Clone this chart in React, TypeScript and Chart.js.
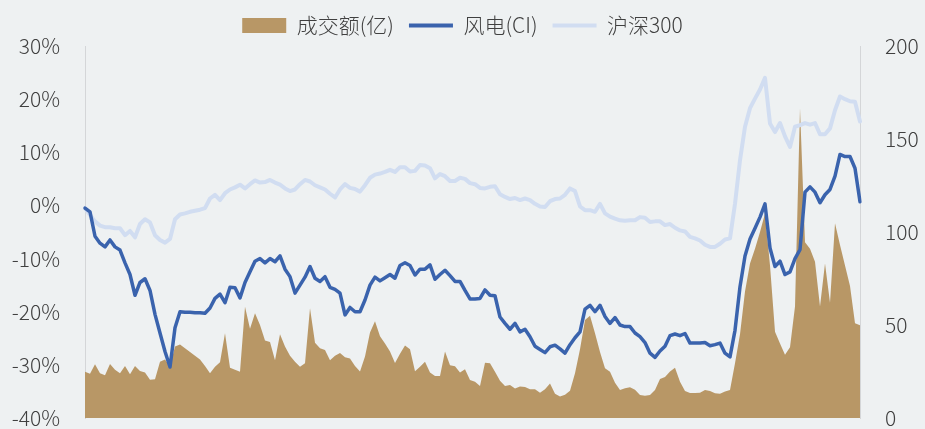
import React, { useEffect, useRef } from 'react';
import { Chart, registerables } from 'chart.js';

Chart.register(...registerables);

// 风电(CI) cumulative return, %
const windCI = [
  -0.5, -1.2, -5.8, -7.1, -7.8, -6.5, -7.8, -8.4, -10.8, -13.0,
  -16.9, -14.5, -13.8, -16.0, -20.5, -24.0, -27.5, -30.4, -23.0, -20.0,
  -20.1, -20.1, -20.2, -20.2, -20.3, -19.3, -17.5, -16.7, -18.3, -15.4,
  -15.5, -17.4, -14.5, -12.5, -10.5, -10.0, -10.8, -10.0, -10.6, -9.5,
  -12.0, -13.4, -16.5, -15.0, -13.5, -11.5, -13.7, -14.3, -13.4, -15.4,
  -15.8, -16.5, -20.6, -19.2, -20.0, -20.0, -17.8, -15.0, -13.5, -14.2,
  -13.6, -13.0, -13.7, -11.3, -10.8, -11.3, -13.1, -12.0, -12.0, -11.2,
  -13.9, -13.0, -12.2, -13.2, -14.3, -14.3, -16.0, -17.6, -17.6, -17.5,
  -15.9, -16.9, -17.0, -21.0, -22.2, -23.3, -22.2, -23.8, -23.3, -24.7,
  -26.5, -27.1, -27.7, -26.6, -26.3, -27.0, -27.8, -26.2, -24.9, -23.8,
  -19.5, -18.8, -20.0, -18.8, -20.9, -22.2, -21.1, -22.5, -22.8, -22.8,
  -24.0, -24.7, -25.8, -27.8, -28.6, -27.4, -26.5, -24.5, -24.2, -24.5,
  -24.1, -25.9, -25.9, -25.9, -25.8, -26.4, -26.2, -25.9, -27.8, -28.5,
  -23.5, -15.3, -9.5, -6.3, -4.3, -2.2, 0.3, -8.0, -11.5, -10.5,
  -13.0, -12.5, -10.0, -8.3, 2.5, 3.5, 2.5, 0.5, 2.0, 3.0,
  5.5, 9.6, 9.2, 9.2, 7.0, 0.7,
];

// 沪深300 cumulative return, %
const hs300 = [
  -0.5, -1.8, -3.0, -3.8, -4.1, -4.1, -4.3, -4.3, -5.6, -4.8,
  -6.0, -3.5, -2.6, -3.2, -5.6, -6.5, -7.0, -6.3, -2.6, -1.7,
  -1.5, -1.2, -1.0, -0.8, -0.5, 1.3, 2.0, 1.0, 2.3, 3.0,
  3.4, 3.9, 3.2, 4.0, 4.7, 4.3, 4.4, 4.8, 4.3, 3.9,
  3.2, 2.7, 3.0, 4.0, 4.8, 4.5, 3.8, 3.4, 3.0, 2.2,
  1.5, 3.0, 4.0, 3.3, 3.1, 2.6, 3.8, 5.2, 5.8, 6.0,
  6.3, 6.7, 6.3, 7.2, 7.2, 6.4, 6.5, 7.6, 7.5, 7.0,
  5.1, 5.9, 5.5, 4.6, 4.6, 5.2, 5.0, 4.2, 4.0, 3.3,
  3.2, 3.5, 3.6, 2.1, 1.6, 1.2, 1.4, 1.0, 1.3, 1.0,
  0.3, -0.2, -0.3, 0.8, 1.2, 1.3, 2.0, 3.2, 2.7, -0.2,
  -0.9, -0.9, -1.2, 0.3, -1.5, -2.1, -2.5, -2.8, -2.9, -2.8,
  -2.8, -2.2, -2.3, -3.1, -3.0, -3.0, -3.7, -3.5, -4.2, -4.7,
  -4.9, -5.9, -6.2, -6.6, -7.4, -7.8, -7.8, -7.2, -6.4, -6.2,
  0.3, 8.5, 14.8, 18.3, 20.1, 21.8, 24.0, 15.4, 13.8, 15.5,
  13.0, 11.0, 14.8, 15.1, 15.5, 15.2, 15.5, 13.4, 13.4, 14.5,
  17.9, 20.5, 20.0, 19.6, 19.5, 15.8,
];

// 成交额(亿)
const turnover = [
  24.9, 23.8, 28.9, 24.0, 23.0, 29.0, 26.0, 24.0, 28.0, 23.5,
  28.0, 25.3, 24.5, 20.5, 20.8, 30.3, 31.5, 27.8, 38.5, 39.5,
  37.5, 35.5, 33.5, 31.5, 28.0, 24.0, 27.6, 30.0, 45.5, 27.0,
  26.0, 24.9, 59.8, 48.0, 56.3, 50.0, 41.6, 40.8, 31.0, 45.0,
  38.5, 33.5, 30.3, 27.5, 29.5, 59.0, 40.5, 37.5, 36.5, 31.0,
  33.5, 35.0, 32.6, 32.0, 28.0, 25.0, 33.0, 46.0, 52.0, 44.0,
  40.0, 35.7, 29.6, 34.5, 39.0, 37.0, 25.1, 27.5, 30.3, 24.5,
  22.6, 22.6, 35.7, 28.3, 27.8, 24.5, 26.2, 20.4, 19.5, 17.2,
  29.7, 29.4, 24.9, 20.0, 17.2, 17.8, 15.8, 16.9, 16.6, 15.5,
  15.5, 13.6, 15.5, 18.6, 13.0, 11.5, 12.5, 14.7, 24.0, 37.0,
  52.7, 55.0, 45.5, 35.5, 26.8, 24.9, 19.0, 15.0, 16.0, 16.5,
  15.2, 12.4, 12.0, 12.4, 15.0, 21.0, 22.0, 25.0, 27.0, 19.5,
  14.5, 13.5, 13.5, 13.6, 15.0, 14.5, 13.3, 13.0, 14.2, 15.0,
  29.4, 45.0, 68.0, 83.0, 91.0, 100.0, 110.0, 82.0, 46.4, 40.0,
  34.0, 38.0, 60.0, 166.5, 94.5, 91.0, 84.0, 60.0, 83.0, 62.0,
  104.7, 93.0, 82.0, 71.0, 50.9, 49.9,
];

const days = windCI.map((_, i) => `D${i + 1}`);

const seriesLabels = ['成交额(亿)', '风电(CI)', '沪深300'];

const BG = '#eef1f2';
const BROWN = '#b89766';
const BLUE = '#3a63ad';
const LIGHT = '#d1ddf1';
const TEXT = '#404040';
const AXIS = '#d4d6d8';
const FONT = '"Noto Sans CJK SC", "Noto Sans", sans-serif';

export default function App() {
  const ref = useRef<HTMLCanvasElement>(null);

  useEffect(() => {
    if (!ref.current) return;
    const font = { family: FONT, size: 21, weight: '300' };
    const fixAxis = (w: number) => (s: any) => {
      s.width = w;
      s.paddingTop = 0;
      s.paddingBottom = 0;
    };
    const chart = new Chart(ref.current, {
      type: 'line',
      data: {
        labels: days,
        datasets: [
          {
            label: seriesLabels[0],
            data: turnover,
            yAxisID: 'y1',
            fill: 'start',
            backgroundColor: BROWN,
            borderColor: BROWN,
            borderWidth: 0,
            pointRadius: 0,
            tension: 0,
            order: 3,
          },
          {
            label: seriesLabels[1],
            data: windCI,
            yAxisID: 'y',
            fill: false,
            borderColor: BLUE,
            borderWidth: 3.5,
            borderJoinStyle: 'round',
            borderCapStyle: 'round',
            pointRadius: 0,
            tension: 0,
            order: 1,
          },
          {
            label: seriesLabels[2],
            data: hs300,
            yAxisID: 'y',
            fill: false,
            borderColor: LIGHT,
            borderWidth: 4,
            borderJoinStyle: 'round',
            borderCapStyle: 'round',
            pointRadius: 0,
            tension: 0,
            order: 2,
          },
        ],
      } as any,
      options: {
        responsive: false,
        animation: false,
        layout: { padding: { top: 0, left: 0, right: 0, bottom: 11 } },
        plugins: {
          tooltip: { enabled: false },
          legend: {
            display: true,
            position: 'top',
            align: 'center',
            labels: {
              font,
              color: TEXT,
              usePointStyle: true,
              pointStyleWidth: 44,
              boxHeight: 15,
              padding: 15,
              generateLabels: (c: any) =>
                c.data.datasets.map((ds: any, i: number) => ({
                  text: ds.label,
                  fillStyle: i === 0 ? BROWN : ds.borderColor,
                  strokeStyle: i === 0 ? BROWN : ds.borderColor,
                  lineWidth: i === 0 ? 0 : 4,
                  pointStyle: i === 0 ? 'rect' : 'line',
                  hidden: false,
                  datasetIndex: i,
                  fontColor: TEXT,
                })),
            },
          },
        },
        scales: {
          x: {
            type: 'category',
            display: false,
            offset: false,
          },
          y: {
            position: 'left',
            min: -40,
            max: 30,
            ticks: {
              stepSize: 10,
              padding: 25,
              color: TEXT,
              font,
              callback: (v: any) => `${v}%`,
            },
            grid: { display: false, drawTicks: false },
            border: { display: true, color: AXIS },
            afterFit: fixAxis(85),
          },
          y1: {
            position: 'right',
            min: 0,
            max: 200,
            ticks: { stepSize: 50, padding: 25, color: TEXT, font },
            grid: { display: false, drawTicks: false },
            border: { display: true, color: AXIS },
            afterFit: fixAxis(65),
          },
        },
      } as any,
    });
    return () => chart.destroy();
  }, []);

  return (
    <div
      style={{
        position: 'fixed',
        left: 0,
        top: 0,
        width: 925,
        height: 429,
        background: BG,
      }}
    >
      <canvas ref={ref} width={925} height={429} style={{ display: 'block' }} />
    </div>
  );
}
